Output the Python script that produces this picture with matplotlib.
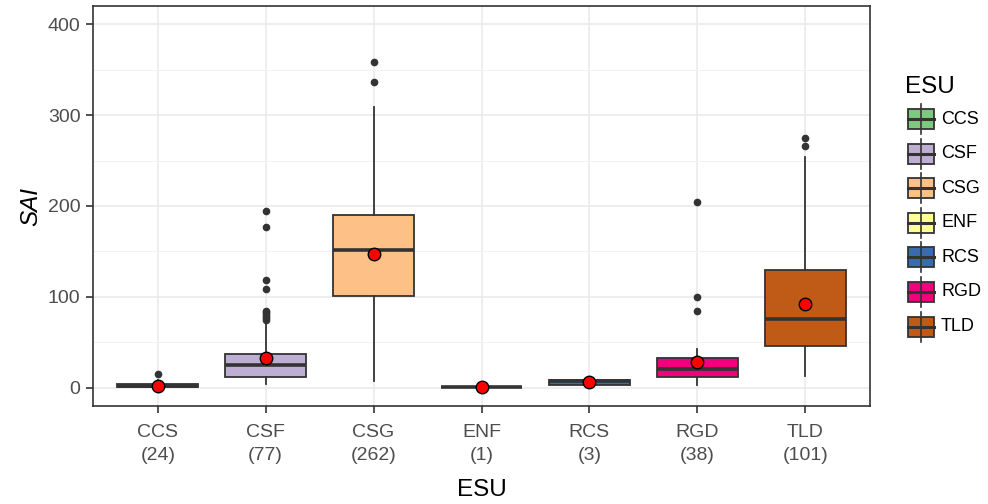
import matplotlib
matplotlib.use("Agg")
import matplotlib.pyplot as plt
from matplotlib.patches import Rectangle
from matplotlib.lines import Line2D

plt.rcParams["font.family"] = ["Liberation Sans", "DejaVu Sans"]

categories = ["CCS", "CSF", "CSG", "ENF", "RCS", "RGD", "TLD"]
counts = [24, 77, 262, 1, 3, 38, 101]
colors = ["#7FC97F", "#BEAED4", "#FDC086", "#FFFF99", "#386CB0", "#F0027F", "#BF5B17"]

whislo = [0, 4, 8, 0.8, 3.3, 3.3, 12.5]
q1 = [0.5, 12.4, 101, 0.8, 3.3, 12.4, 46.5]
med = [2, 25, 152, 0.8, 7, 20.5, 76]
q3 = [4.5, 37.4, 190, 0.8, 9, 33, 130]
whishi = [9, 73, 309, 0.8, 9, 42.5, 254]
means = [2, 33, 147, 0.8, 6.3, 28, 92]
outliers = [
    [15],
    [195, 177, 119, 109, 85, 83, 81, 79, 77, 75],
    [358, 336],
    [],
    [],
    [204, 100, 85],
    [275, 266],
]

W, H = 988, 504
fig = plt.figure(figsize=(W / 100, H / 100), dpi=100)
ax = fig.add_axes([93 / W, (H - 406) / H, (870 - 93) / W, (406 - 6) / H])

stats = []
for i, c in enumerate(categories):
    stats.append(dict(label=c, whislo=whislo[i], q1=q1[i], med=med[i], q3=q3[i],
                      whishi=whishi[i], mean=means[i], fliers=outliers[i]))

pos = list(range(1, len(categories) + 1))
bp = ax.bxp(stats, positions=pos, widths=0.75, patch_artist=True, showmeans=True,
            showcaps=False,
            boxprops=dict(edgecolor="#333333", linewidth=1.3),
            medianprops=dict(color="#333333", linewidth=2.6),
            whiskerprops=dict(color="#333333", linewidth=1.3),
            flierprops=dict(marker="o", markerfacecolor="#333333", markeredgecolor="#333333",
                            markersize=4.5, linestyle="none"),
            meanprops=dict(marker="o", markerfacecolor="red", markeredgecolor="black",
                           markersize=9, markeredgewidth=1.0))
for patch, col in zip(bp["boxes"], colors):
    patch.set_facecolor(col)
    patch.set_zorder(2)
for k in ["medians", "whiskers", "fliers", "means"]:
    for a in bp[k]:
        a.set_zorder(3 if k != "means" else 4)

ax.set_xlim(0.4, 7.6)
ax.set_ylim(-20, 420)
ax.set_yticks([0, 100, 200, 300, 400])
ax.set_yticks([50, 150, 250, 350], minor=True)
ax.set_xticks(pos)
ax.set_xticklabels([f"{c}\n({n})" for c, n in zip(categories, counts)], linespacing=1.45)
ax.grid(True, which="major", color="#EBEBEB", linewidth=1.2, zorder=0)
ax.grid(True, which="minor", axis="y", color="#F2F2F2", linewidth=0.8, zorder=0)
ax.set_axisbelow(True)
ax.tick_params(axis="both", which="major", colors="#333333", labelcolor="#4D4D4D",
               labelsize=14, length=5, width=1.2)
ax.tick_params(axis="x", which="major", pad=8)
ax.tick_params(axis="y", which="major", pad=4)
ax.tick_params(axis="y", which="minor", length=0)
for s in ax.spines.values():
    s.set_color("#333333")
    s.set_linewidth(1.2)
ax.set_xlabel("ESU", fontsize=17.5, color="black", labelpad=11)
ax.set_ylabel("SAI", fontsize=17.5, color="black", style="italic", labelpad=4)

# legend drawn manually in figure pixel coordinates
def fx(px):
    return px / W

def fy(py):
    return (H - py) / H

fig.text(fx(905), fy(87), "ESU", fontsize=17.5, color="black", va="center", ha="left")
y0 = 119
step = 34.6
for i, (c, col) in enumerate(zip(categories, colors)):
    yc = y0 + i * step
    fig.add_artist(Line2D([fx(921), fx(921)], [fy(yc - 15), fy(yc + 15)],
                          color="#333333", linewidth=1.2, transform=fig.transFigure))
    fig.add_artist(Rectangle((fx(908), fy(yc + 10)), fx(934) - fx(908), fy(yc - 10) - fy(yc + 10),
                             facecolor=col, edgecolor="#333333", linewidth=1.3,
                             transform=fig.transFigure))
    fig.add_artist(Line2D([fx(908), fx(934)], [fy(yc), fy(yc)],
                          color="#333333", linewidth=2.2, transform=fig.transFigure))
    fig.text(fx(941), fy(yc), c, fontsize=13, color="black", va="center", ha="left")

fig.savefig("out.png", dpi=100)
